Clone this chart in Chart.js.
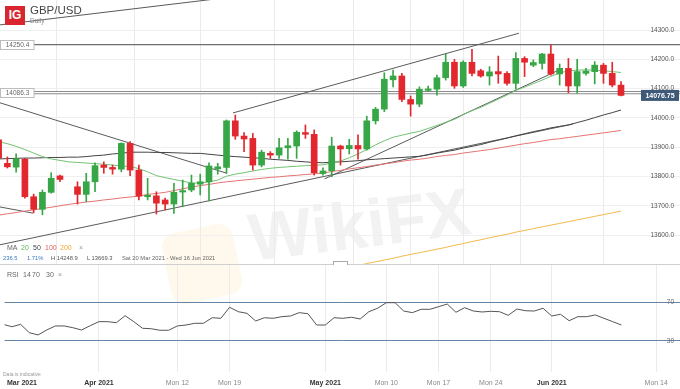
<!DOCTYPE html>
<html>
<head>
<meta charset="utf-8">
<script src="https://cdn.jsdelivr.net/npm/chart.js@4.4.0/dist/chart.umd.min.js"></script>
<style>
  body { margin: 0; background: #fff; font-family: "Liberation Sans", Arial, sans-serif; }
  #wrap { position: relative; width: 680px; height: 389px; overflow: hidden; background: #fff; }
  canvas { position: absolute; left: 0; }
  #main { top: 0; }
  #rsi { top: 265px; }
  .t { position: absolute; white-space: nowrap; line-height: 1; }
  #logo { position: absolute; left: 5px; top: 6px; width: 20px; height: 19px; background: #d9262e; color: #fff;
          font: bold 12px "Liberation Sans", Arial, sans-serif; text-align: center; line-height: 19px; }
  #wm { position: absolute; left: 253px; top: 204px; font: bold 67px "Liberation Sans", Arial, sans-serif; line-height: 1;
        color: rgba(110,110,110,0.09); transform: rotate(-7deg); transform-origin: left bottom; }
  #wmLogo { position: absolute; left: 166px; top: 228px; width: 72px; height: 72px; border-radius: 14px;
            background: rgba(248,210,110,0.13); transform: rotate(-12deg); }
</style>
</head>
<body>
<div id="wrap">
  <div id="wmLogo"></div>
  <div id="wm">WikiFX</div>
  <canvas id="main" width="680" height="265"></canvas>
  <canvas id="rsi" width="680" height="124"></canvas>

  <div id="logo">IG</div>
  <div class="t" style="left:30px;top:5px;font-size:11.5px;color:#444">GBP/USD</div>
  <div class="t" style="left:30px;top:18px;font-size:6.5px;color:#888">Daily</div>

  <div class="t" style="left:7px;top:243.5px;font-size:7px;color:#666">MA</div>
  <div class="t" style="left:21px;top:243.5px;font-size:7px;color:#5cb85c">20</div>
  <div class="t" style="left:33px;top:243.5px;font-size:7px;color:#444">50</div>
  <div class="t" style="left:45px;top:243.5px;font-size:7px;color:#e06060">100</div>
  <div class="t" style="left:60px;top:243.5px;font-size:7px;color:#f0a830">200</div>
  <div class="t" style="left:79px;top:243.5px;font-size:7px;color:#999">×</div>

  <div class="t" style="left:3px;top:255.8px;font-size:5.8px;color:#3a78c2">236.5</div>
  <div class="t" style="left:27px;top:255.8px;font-size:5.8px;color:#3a78c2">1.71%</div>
  <div class="t" style="left:51px;top:255.8px;font-size:5.8px;color:#555">H 14248.9</div>
  <div class="t" style="left:87px;top:255.8px;font-size:5.8px;color:#555">L 13669.3</div>
  <div class="t" style="left:122px;top:255.8px;font-size:5.8px;color:#666">Sat 20 Mar 2021 - Wed 16 Jun 2021</div>

  <div class="t" style="left:7px;top:270.8px;font-size:7px;color:#666">RSI</div>
  <div class="t" style="left:23px;top:270.8px;font-size:7px;color:#666">14</div>
  <div class="t" style="left:32px;top:270.8px;font-size:7px;color:#666">70</div>
  <div class="t" style="left:46px;top:270.8px;font-size:7px;color:#666">30</div>
  <div class="t" style="left:58px;top:270.8px;font-size:7px;color:#999">×</div>

  <div class="t" style="left:3px;top:371.5px;font-size:5px;color:#999">Data is indicative</div>
</div>
<script>
// candle slot of the first entry (Apr 1 = slot 0)
const firstSlot = -11

const dates = ['19 Mar','21 Mar','22 Mar','23 Mar','24 Mar','25 Mar','26 Mar','28 Mar','29 Mar','30 Mar','31 Mar',
  '1 Apr','2 Apr','4 Apr','5 Apr','6 Apr','7 Apr','8 Apr','9 Apr','11 Apr','12 Apr','13 Apr','14 Apr','15 Apr','16 Apr',
  '18 Apr','19 Apr','20 Apr','21 Apr','22 Apr','23 Apr','25 Apr','26 Apr','27 Apr','28 Apr','29 Apr','30 Apr',
  '2 May','3 May','4 May','5 May','6 May','7 May','9 May','10 May','11 May','12 May','13 May','14 May','16 May','17 May',
  '18 May','19 May','20 May','21 May','23 May','24 May','25 May','26 May','27 May','28 May','30 May','31 May',
  '1 Jun','2 Jun','3 Jun','4 Jun','6 Jun','7 Jun','8 Jun','9 Jun','10 Jun']

const opens = [13925,13845,13832,13859,13731,13688,13746,13802,null,13765,13739,
  13782,13839,13831,13825,13913,13822,13731,13734,13720,13706,13747,13754,13774,13782,13826,13831,13990,13938,13930,13839,13879,13873,13898,13904,13950,13944,
  13810,13820,13904,13895,13906,13894,13990,14030,14130,14143,14063,14047,14094,14098,14137,14190,14109,14190,14161,14143,14158,14152,14118,14203,14180,14186,
  14218,14150,14169,14109,14152,14158,14180,14152,14112]
const highs = [13935,13867,13877,13862,13740,13754,13813,13805,null,13782,13811,
  13847,13850,13839,13915,13919,13839,13794,13748,13726,13777,13788,13805,13808,13847,13845,13993,14010,13950,13947,13890,13885,13930,13930,13956,13976,13959,
  13830,13934,13907,13927,13942,14006,14036,14154,14163,14152,14075,14106,14109,14146,14218,14200,14195,14234,14166,14175,14211,14158,14223,14209,14198,14220,
  14248.9,14184,14203,14200,14169,14192,14186,14190,14124]
const lows = [13855,13829,13815,13726,13676,13669.3,13743,13782,null,13706,13714,
  13748,13811,13808,13816,13803,13720,13720,13672,13686,13674,13697,13748,13737,13717,13808,13811,13927,13885,13822,13833,13862,13862,13859,13862,13930,13805,
  13805,13799,13839,13877,13859,13890,13979,14021,14106,14055,14006,14038,14090,14078,14129,14101,14104,14143,14139,14112,14118,14112,14098,14141,14175,14166,
  14146,14112,14086,14084,14146,14116,14118,14106,14075]
const closes = [13863,13833,13860,13731,13688,13746,13794,13790,null,13739,13782,
  13837,13831,13825,13913,13822,13733,13736,13709,13706,13746,13752,13777,13782,13836,13833,13990,13938,13928,13839,13883,13873,13898,13905,13951,13944,13813,
  13819,13904,13894,13906,13894,13990,14030,14132,14143,14063,14047,14098,14099,14137,14190,14109,14190,14152,14143,14157,14150,14118,14203,14190,14189,14218,
  14150,14169,14109,14158,14160,14180,14152,14112,14076.75]

const ma20 = [13919,13912,13903,13892,13880,13868,13860,13855,13850,13848,13846,
  13844,13842,13839,13836,13834,13827,13816,13803,13796,13790,13784,13778,13778,13781,13788,13801,13808,13813,13819,13824,13828,13831,13833,13835,13837,13838,
  13840,13846,13853,13864,13877,13892,13908,13922,13934,13941,13948,13954,13964,13974,13985,13995,14011,14025,14036,14050,14064,14078,14094,14105,14117,14129,
  14142,14153,14161,14163,14164,14163,14161,14158,14155]
const ma50 = [13860,13861,13862,13863,13863,13864,13865,13865,13866,13866,13868,
  13871,13873,13877,13879,13883,13883,13883,13882,13882,13881,13880,13879,13879,13876,13873,13870,13868,13866,13864,13862,13859,13857,13855,13852,13850,13848,
  13847,13849,13850,13852,13854,13857,13859,13861,13863,13865,13867,13869,13874,13880,13885,13890,13897,13903,13909,13917,13924,13931,13939,13946,13953,13959,
  13966,13971,13976,13984,13992,14001,14010,14018,14027]
const ma100 = [13668,13673,13677,13682,13686,13691,13695,13700,13705,13709,13713,
  13716,13720,13723,13727,13730,13733,13739,13742,13746,13752,13758,13764,13769,13773,13778,13782,13785,13788,13791,13794,13797,13799,13802,13804,13807,13809,
  13812,13817,13821,13826,13830,13834,13839,13843,13847,13852,13856,13859,13863,13868,13872,13875,13880,13884,13888,13892,13897,13902,13907,13912,13916,13921,
  13926,13929,13933,13937,13941,13945,13949,13953,13957]
// the 200 MA only comes into view in May
const ma200 = Array(40).fill(null).concat([13491,13496,13503,13509,13515,13521,13528,13534,13540,13546,13552,13558,13565,13571,13578,13584,
  13591,13597,13603,13610,13616,13622,13628,13634,13640,13646,13652,13658,13664,13670,13676,13682])

const rsi14 = [47.4,44.9,47.4,38.7,36.3,41.5,45.7,45.7,43.9,41.5,46.0,
  50.2,50.2,49.1,56.4,50.2,43.3,42.8,41.2,41.2,45.7,46.7,48.5,48.5,54.3,53.7,65.2,60.6,58.9,50.9,54.3,53.7,55.4,56.1,59.6,58.5,46.7,
  46.7,54.3,53.7,54.8,53.0,60.6,64.2,70.0,70.0,61.3,59.6,63.1,63.1,65.8,68.6,60.0,64.8,61.3,60.3,61.0,60.6,56.8,63.4,61.6,61.3,64.2,
  56.1,57.9,51.2,55.4,55.4,57.2,53.7,50.2,46.7]

// drawn trend lines, [slot, price] end points
const trendLines = [
  [[-11, 14317], [16, 14414]],
  [[-11, 14053], [15.05, 13811]],
  [[-11, 13697], [-7.07, 13675]],
  [[-11, 13566], [54.5, 13979]],
  [[26.2, 13792], [53.4, 14170]],
  [[15.74, 14017], [48.36, 14289]]
]
const levels = [14250.4, 14086.3]
const levelStart = -6.96

const priceTicks = [13600, 13700, 13800, 13900, 14000, 14100, 14200, 14300]
const rsiLevels = [30, 70]
const tickSlots = [-8.84, 0, 9, 15, 26, 33, 39, 45, 52, 64]
const tickLabels = ['Mar 2021','Apr 2021','Mon 12','Mon 19','May 2021','Mon 10','Mon 17','Mon 24','Jun 2021','Mon 14']

const slotMin = -10.84
const slotMax = 66.73
const GREEN = '#36a646'
const RED = '#e2282e'
const FONT = '"Liberation Sans", Arial, sans-serif'

const slots = dates.map((d, i) => firstSlot + i)
const candleColor = c => (c.raw && c.raw.up ? GREEN : RED)

const wicks = []
const bodies = []
slots.forEach((x, i) => {
    if (opens[i] == null) return
    const up = closes[i] >= opens[i]
    wicks.push({ x: x, y: [lows[i], highs[i]], up: up })
    bodies.push({ x: x, y: [opens[i], closes[i]], up: up })
})

const series = arr => slots.map((x, i) => ({ x: x, y: arr[i] }))
const lineSet = (data, color, width, order) => ({
    type: 'line', data: data, borderColor: color, borderWidth: width,
    pointRadius: 0, tension: 0, order: order, spanGaps: false
})

const datasets = [
    { type: 'bar', data: bodies, backgroundColor: candleColor, barThickness: 6, grouped: false, minBarLength: 1, order: 0 },
    { type: 'bar', data: wicks, backgroundColor: candleColor, barThickness: 1, grouped: false, order: 1 },
    lineSet(series(ma20), '#72c272', 1, 3),
    lineSet(series(ma50), '#444444', 1, 3),
    lineSet(series(ma100), '#e57373', 1, 3),
    lineSet(series(ma200), '#f2b84b', 1, 3)
]
trendLines.forEach(t => {
    datasets.push(lineSet(t.map(p => ({ x: p[0], y: p[1] })), '#5a5a5a', 1, 4))
})
datasets.push(lineSet([{ x: levelStart, y: levels[0] }, { x: slotMax, y: levels[0] }], '#6e6e6e', 1.3, 5))
datasets.push(lineSet([{ x: levelStart, y: levels[1] }, { x: slotMax, y: levels[1] }], '#ffffff', 1.2, 5))
datasets.push(lineSet([{ x: levelStart, y: levels[1] }, { x: slotMax, y: levels[1] }], '#8a8a8a', 3.4, 6))

const xGrid = { color: c => (c.index === 0 ? 'rgba(0,0,0,0)' : '#ebebeb'), drawTicks: false }
const isMon = c => (tickLabels[c.index] || 'Mon').indexOf('Mon') === 0

const decorations = {
    id: 'decorations',
    afterDraw(chart) {
        const ctx = chart.ctx
        const y = chart.scales.y
        ctx.save()
        // level labels on the left
        ctx.font = '6.5px ' + FONT
        ctx.textAlign = 'center'
        ctx.textBaseline = 'middle'
        levels.forEach(v => {
            const py = Math.round(y.getPixelForValue(v))
            ctx.fillStyle = '#fff'
            ctx.strokeStyle = '#bcbcbc'
            ctx.lineWidth = 1
            ctx.fillRect(0.5, py - 4.5, 33.5, 9)
            ctx.strokeRect(0.5, py - 4.5, 33.5, 9)
            ctx.fillStyle = '#666'
            ctx.fillText(v.toFixed(1), 17.5, py + 0.5)
        })
        // last price tag
        const last = closes[closes.length - 1]
        const ly = y.getPixelForValue(last)
        ctx.fillStyle = '#3e5a78'
        ctx.fillRect(641, ly - 5.5, 38, 11)
        ctx.fillStyle = '#fff'
        ctx.font = 'bold 7px ' + FONT
        ctx.fillText(last.toFixed(2), 660, ly + 0.5)
        // panel separator and drag handle
        ctx.strokeStyle = '#cfcfcf'
        ctx.beginPath()
        ctx.moveTo(0, 264.5)
        ctx.lineTo(680, 264.5)
        ctx.stroke()
        ctx.fillStyle = '#fff'
        ctx.strokeStyle = '#a8a8a8'
        ctx.fillRect(333.5, 261.5, 14, 4)
        ctx.strokeRect(333.5, 261.5, 14, 4)
        ctx.restore()
    }
}

new Chart(document.getElementById('main').getContext('2d'), {
    type: 'bar',
    data: { datasets: datasets },
    options: {
        responsive: false,
        animation: false,
        events: [],
        layout: { padding: 0 },
        plugins: { legend: { display: false }, tooltip: { enabled: false } },
        scales: {
            x: {
                type: 'linear', min: slotMin, max: slotMax, offset: false,
                afterBuildTicks: s => { s.ticks = tickSlots.map(v => ({ value: v })) },
                afterFit: s => { s.height = 0 },
                ticks: { display: false },
                grid: xGrid,
                border: { display: false }
            },
            y: {
                type: 'linear', position: 'right', min: 13498, max: 14402.4,
                afterBuildTicks: s => { s.ticks = priceTicks.map(v => ({ value: v })) },
                afterFit: s => { s.width = 0 },
                ticks: { mirror: true, padding: -6, color: '#555', font: { size: 6.5, family: FONT }, callback: v => v.toFixed(1) },
                grid: { color: '#efefef', drawTicks: false },
                border: { display: false }
            }
        }
    },
    plugins: [decorations]
})

new Chart(document.getElementById('rsi').getContext('2d'), {
    type: 'line',
    data: {
        datasets: [{
            data: series(rsi14), borderColor: '#555', borderWidth: 1, pointRadius: 0, tension: 0
        }]
    },
    options: {
        responsive: false,
        animation: false,
        events: [],
        layout: { padding: 0 },
        plugins: { legend: { display: false }, tooltip: { enabled: false } },
        scales: {
            x: {
                type: 'linear', min: slotMin, max: slotMax, offset: false,
                afterBuildTicks: s => { s.ticks = tickSlots.map(v => ({ value: v })) },
                afterFit: s => { s.height = 17 },
                ticks: {
                    autoSkip: false, maxRotation: 0, padding: 7,
                    callback: (v, i) => tickLabels[i],
                    color: c => (isMon(c) ? '#8a8a8a' : '#333'),
                    font: c => ({ size: 7, family: FONT, weight: isMon(c) ? 'normal' : 'bold' })
                },
                grid: xGrid,
                border: { display: false }
            },
            y: {
                type: 'linear', position: 'right', min: -2.38, max: 109.37,
                afterBuildTicks: s => { s.ticks = rsiLevels.map(v => ({ value: v })) },
                afterFit: s => { s.width = 0 },
                ticks: { mirror: true, padding: -6, color: '#666', font: { size: 6.5, family: FONT } },
                grid: { color: '#6684a6', drawTicks: false },
                border: { display: false }
            }
        }
    }
})
</script>
</body>
</html>
